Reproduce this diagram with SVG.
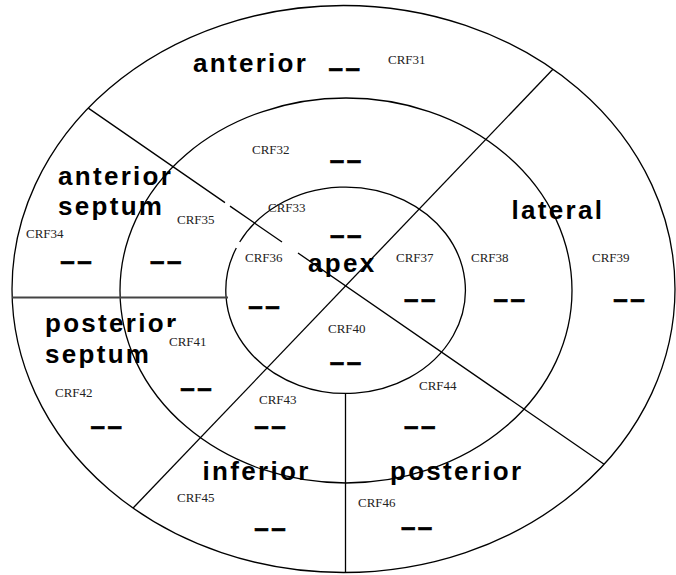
<svg xmlns="http://www.w3.org/2000/svg" width="676" height="575" viewBox="0 0 676 575">
<style>
.ring{fill:none;stroke:#000;stroke-width:1.3}
.div{fill:none;stroke:#000;stroke-width:1.3}
.hline{fill:none;stroke:#444;stroke-width:2}
.lbl{font-family:"Liberation Sans",Arial,sans-serif;font-weight:bold;font-size:26px;letter-spacing:2.3px;fill:#000}
.crf{font-family:"Liberation Serif","Times New Roman",serif;font-size:13px;fill:#222}
.dash{font-family:"Liberation Sans",Arial,sans-serif;font-weight:bold;font-size:26px;letter-spacing:2.5px;fill:#000;stroke:#000;stroke-width:0.7}
.mask{fill:#fff;stroke:none}
</style>
<rect width="676" height="575" fill="#fff"/>
<g id="rings">
<ellipse class="ring" cx="343.5" cy="289" rx="331.5" ry="283.5"/>
<ellipse class="ring" cx="346" cy="290.5" rx="226" ry="192.5"/>
<path class="ring" d="M239.7 242 A119.8 103.2 0 1 1 236.3 248"/>
</g>
<g id="connectors">
<path class="div" d="M552.9 69.3 L133.1 508"/>
<path class="div" d="M88.3 108.1 L225 202.6 M230 206.1 L282 242 M298 253 L604.1 464.3"/>
<path class="hline" d="M12.2 297.5 L228 297.5"/>
<path class="div" d="M345.5 393 L345.5 572.5"/>
</g>
<g id="label-anterior"><text class="lbl" x="193" y="72">anterior</text></g>
<g id="label-anterior-septum"><text class="lbl" x="58" y="185">anterior</text><text class="lbl" x="58" y="215">septum</text></g>
<g id="label-lateral"><text class="lbl" x="511.5" y="218.5">lateral</text></g>
<g id="label-apex"><text class="lbl" x="308" y="272">apex</text></g>
<g id="label-posterior-septum"><text class="lbl" x="45" y="331.5">posterior</text><text class="lbl" x="45" y="363">septum</text></g>
<g id="label-inferior"><text class="lbl" x="202.6" y="479.5">inferior</text></g>
<g id="label-posterior"><text class="lbl" x="390" y="479.5">posterior</text></g>
<g id="crf31"><text class="crf" x="388" y="64">CRF31</text><text class="dash" x="328.5" y="76.5">––</text></g>
<g id="crf32"><text class="crf" x="252" y="154">CRF32</text><text class="dash" x="329.7" y="168.7">––</text></g>
<g id="crf33"><text class="crf" x="268" y="212">CRF33</text><text class="dash" x="330" y="244">––</text></g>
<g id="crf34"><text class="crf" x="26" y="238">CRF34</text><text class="dash" x="60.3" y="270.3">––</text></g>
<g id="crf35"><text class="crf" x="177" y="224">CRF35</text><text class="dash" x="150" y="270.3">––</text></g>
<g id="crf36"><text class="crf" x="245" y="262">CRF36</text><text class="dash" x="248.3" y="314.5">––</text></g>
<g id="crf37"><text class="crf" x="396" y="262">CRF37</text><text class="dash" x="404" y="307.7">––</text></g>
<g id="crf38"><text class="crf" x="471" y="262">CRF38</text><text class="dash" x="493.5" y="307.7">––</text></g>
<g id="crf39"><text class="crf" x="592" y="262">CRF39</text><text class="dash" x="613.3" y="307.7">––</text></g>
<g id="crf40"><text class="crf" x="328" y="333">CRF40</text><text class="dash" x="329.7" y="371">––</text></g>
<g id="crf41"><rect class="mask" x="163" y="327" width="50" height="22"/><text class="crf" x="169" y="346">CRF41</text><text class="dash" x="180.2" y="397">––</text></g>
<g id="crf42"><text class="crf" x="55" y="397">CRF42</text><text class="dash" x="90.5" y="435.3">––</text></g>
<g id="crf43"><text class="crf" x="259" y="404">CRF43</text><text class="dash" x="254.3" y="435.3">––</text></g>
<g id="crf44"><text class="crf" x="419" y="390">CRF44</text><text class="dash" x="404" y="435.3">––</text></g>
<g id="crf45"><text class="crf" x="177" y="502">CRF45</text><text class="dash" x="254.3" y="537.3">––</text></g>
<g id="crf46"><text class="crf" x="358" y="507">CRF46</text><text class="dash" x="400.9" y="536">––</text></g>
</svg>
